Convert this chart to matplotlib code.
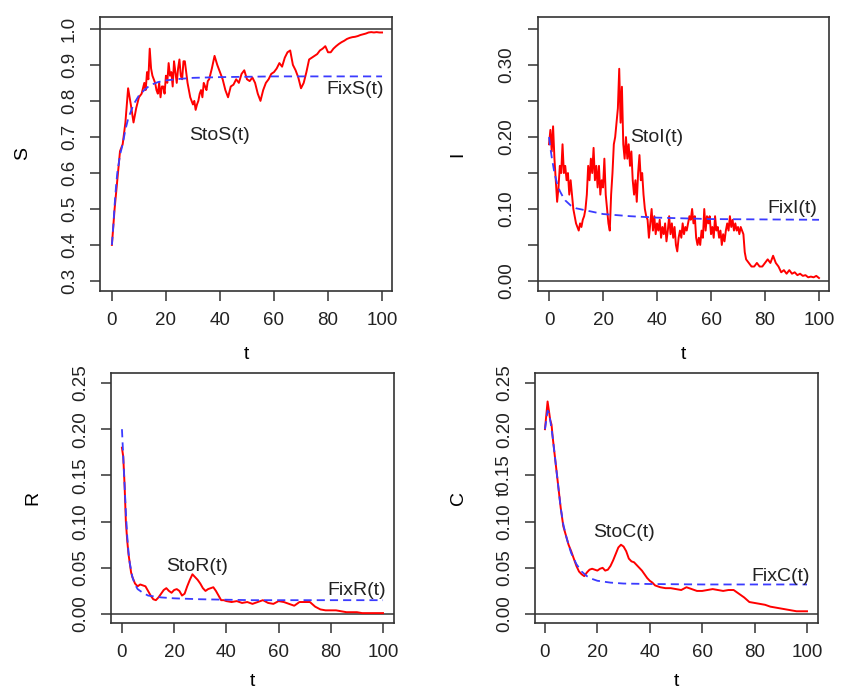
#Stochastic vs fixed solution of the S, I, R, C model (4 panels, R-like style)
import numpy as np
import matplotlib.pyplot as plt

plt.rcParams['font.family'] = ['Liberation Sans', 'DejaVu Sans']

#Data
#S(t)
t_S = np.concatenate([np.arange(0, 12, 1), np.arange(12, 36.5, 0.5), np.arange(37, 101, 1)])
sto_S = [0.40, 0.50, 0.58, 0.66, 0.68, 0.74, 0.835, 0.79, 0.74, 0.78, 0.81, 0.82,
         0.85, 0.83, 0.88, 0.86, 0.945, 0.89, 0.87, 0.86, 0.85, 0.83,
         0.82, 0.85, 0.81, 0.84, 0.84, 0.82, 0.87, 0.85, 0.905, 0.87,
         0.88, 0.84, 0.91, 0.88, 0.85, 0.89, 0.915, 0.87, 0.86, 0.91,
         0.91, 0.88, 0.85, 0.83, 0.81, 0.80, 0.79, 0.80, 0.775, 0.79,
         0.80, 0.82, 0.83, 0.81, 0.85, 0.84, 0.83, 0.855, 0.86,
         0.89, 0.925, 0.90, 0.88, 0.86, 0.83, 0.81, 0.84, 0.845, 0.86,
         0.85, 0.875, 0.885, 0.86, 0.855, 0.865, 0.85, 0.82, 0.80, 0.83,
         0.85, 0.86, 0.875, 0.88, 0.89, 0.905, 0.895, 0.92, 0.935, 0.94,
         0.90, 0.885, 0.865, 0.835, 0.85, 0.88, 0.915, 0.92, 0.925, 0.93,
         0.94, 0.945, 0.952, 0.935, 0.935, 0.945, 0.952, 0.958, 0.963, 0.967,
         0.972, 0.975, 0.977, 0.978, 0.98, 0.983, 0.985, 0.987, 0.99, 0.991,
         0.99, 0.991, 0.99, 0.99]
t_fixS = [0, 0.5, 1, 1.5, 2, 3, 4, 5, 6, 7, 8, 10, 12, 14, 17, 20, 25, 30, 40, 50, 60, 80, 100]
fix_S = [0.40, 0.45, 0.51, 0.56, 0.60, 0.65, 0.68, 0.72, 0.75, 0.77, 0.79, 0.815,
         0.83, 0.843, 0.852, 0.857, 0.861, 0.864, 0.866, 0.867, 0.868, 0.868, 0.868]

#I(t)
t_I = np.concatenate([np.arange(0, 73.5, 0.5), np.arange(74, 101, 1)])
sto_I = [0.19, 0.21, 0.18, 0.215, 0.17, 0.14, 0.11, 0.13, 0.16, 0.15,
         0.19, 0.15, 0.16, 0.14, 0.15, 0.12, 0.14, 0.12, 0.10, 0.09,
         0.08, 0.075, 0.07, 0.08, 0.075, 0.085, 0.09, 0.10, 0.12, 0.16,
         0.14, 0.17, 0.15, 0.185, 0.14, 0.16, 0.13, 0.16, 0.12, 0.14,
         0.13, 0.17, 0.12, 0.10, 0.08, 0.07, 0.12, 0.15, 0.19, 0.20,
         0.22, 0.24, 0.295, 0.22, 0.27, 0.19, 0.17, 0.20, 0.17, 0.19,
         0.16, 0.18, 0.14, 0.12, 0.14, 0.11, 0.15, 0.175, 0.14, 0.15,
         0.12, 0.10, 0.09, 0.085, 0.06, 0.08, 0.10, 0.07, 0.09, 0.065,
         0.08, 0.07, 0.085, 0.06, 0.075, 0.065, 0.08, 0.055, 0.07, 0.09,
         0.065, 0.08, 0.06, 0.075, 0.05, 0.041, 0.06, 0.07, 0.06, 0.08,
         0.065, 0.075, 0.07, 0.08, 0.09, 0.085, 0.10, 0.08, 0.09, 0.06,
         0.05, 0.06, 0.05, 0.07, 0.06, 0.10, 0.07, 0.09, 0.08, 0.09,
         0.065, 0.075, 0.06, 0.09, 0.07, 0.075, 0.06, 0.07, 0.05, 0.065,
         0.055, 0.07, 0.08, 0.07, 0.09, 0.075, 0.085, 0.07, 0.08, 0.07,
         0.075, 0.065, 0.075, 0.07, 0.065, 0.04, 0.03,
         0.025, 0.02, 0.02, 0.025, 0.02, 0.02, 0.025, 0.03, 0.025, 0.035,
         0.025, 0.02, 0.012, 0.015, 0.01, 0.015, 0.01, 0.012, 0.008, 0.01,
         0.007, 0.008, 0.005, 0.006, 0.005, 0.007, 0.004]
t_fixI = [0, 0.5, 1, 2, 3, 4, 5, 6, 8, 10, 15, 20, 30, 40, 50, 60, 80, 100]
fix_I = [0.20, 0.185, 0.172, 0.15, 0.135, 0.125, 0.118, 0.112, 0.105, 0.101,
         0.097, 0.093, 0.09, 0.088, 0.087, 0.086, 0.0855, 0.085]

#R(t)
t_R = [0, 0.5, 1, 1.5, 2, 2.5, 3, 3.5, 4, 5, 6, 7, 8, 9, 10, 11, 12, 13, 14, 15,
       16, 17, 18, 19, 20, 21, 22, 23, 24, 25, 26, 27, 28, 29, 30, 31, 32, 33, 34, 35,
       36, 37, 38, 39, 40, 42, 44, 46, 48, 50, 52, 54, 56, 58, 60, 62, 64, 66, 68, 70,
       72, 74, 76, 78, 80, 82, 84, 86, 88, 90, 92, 95, 100]
sto_R = [0.18, 0.17, 0.14, 0.10, 0.08, 0.065, 0.055, 0.045, 0.04, 0.033, 0.03, 0.032,
         0.031, 0.03, 0.025, 0.02, 0.016, 0.015, 0.018, 0.022, 0.026, 0.028, 0.025, 0.023,
         0.026, 0.027, 0.025, 0.02, 0.022, 0.03, 0.037, 0.043, 0.04, 0.037, 0.033, 0.028,
         0.025, 0.027, 0.028, 0.029, 0.025, 0.02, 0.015, 0.015, 0.014, 0.013, 0.014, 0.012,
         0.013, 0.011, 0.013, 0.015, 0.012, 0.011, 0.014, 0.013, 0.011, 0.009, 0.013, 0.013,
         0.013, 0.008, 0.005, 0.004, 0.004, 0.004, 0.003, 0.002, 0.002, 0.002, 0.001, 0.001,
         0.001]
t_fixR = [0, 0.5, 1, 1.5, 2, 2.5, 3, 4, 5, 6, 8, 10, 15, 20, 30, 50, 100]
fix_R = [0.20, 0.17, 0.14, 0.11, 0.085, 0.067, 0.055, 0.04, 0.032, 0.027, 0.023,
         0.02, 0.018, 0.017, 0.016, 0.015, 0.015]

#C(t)
t_C = [0, 0.5, 1, 1.5, 2, 2.5, 3, 4, 5, 6, 7, 8, 9, 10, 11, 12, 13, 14, 15, 16,
       17, 18, 19, 20, 21, 22, 23, 24, 25, 26, 27, 28, 29, 30, 31, 32, 33, 34, 35, 36,
       37, 38, 39, 40, 41, 42, 44, 46, 48, 50, 52, 54, 56, 58, 60, 62, 64, 66, 68, 70,
       72, 74, 76, 78, 80, 82, 84, 86, 88, 90, 92, 94, 96, 98, 100]
sto_C = [0.20, 0.215, 0.23, 0.22, 0.21, 0.205, 0.19, 0.165, 0.14, 0.115, 0.095, 0.085,
         0.075, 0.068, 0.06, 0.052, 0.046, 0.043, 0.041, 0.045, 0.048, 0.049, 0.048, 0.047,
         0.049, 0.05, 0.047, 0.048, 0.052, 0.058, 0.065, 0.072, 0.075, 0.073, 0.068, 0.06,
         0.057, 0.056, 0.053, 0.05, 0.047, 0.043, 0.039, 0.036, 0.034, 0.031, 0.029, 0.028,
         0.028, 0.027, 0.026, 0.029, 0.027, 0.025, 0.025, 0.026, 0.027, 0.026, 0.025, 0.026,
         0.026, 0.022, 0.018, 0.013, 0.012, 0.011, 0.010, 0.008, 0.007, 0.006, 0.005, 0.004,
         0.003, 0.003, 0.003]
t_fixC = [0, 0.5, 1, 1.5, 2, 3, 4, 5, 6, 7, 8, 9, 10, 12, 14, 16, 18, 20, 25, 30, 40, 60, 100]
fix_C = [0.20, 0.21, 0.22, 0.218, 0.21, 0.19, 0.165, 0.14, 0.115, 0.097, 0.085, 0.075,
         0.066, 0.054, 0.046, 0.041, 0.038, 0.036, 0.034, 0.033, 0.0325, 0.032, 0.032]

#tick labels
ticks_S = [0.3, 0.4, 0.5, 0.6, 0.7, 0.8, 0.9, 1.0]
labels_S = ['0.3', '0.4', '0.5', '0.6', '0.7', '0.8', '0.9', '1.0']
ticks_I = [0.0, 0.05, 0.10, 0.15, 0.20, 0.25, 0.30, 0.35]
labels_I = ['0.00', '', '0.10', '', '0.20', '', '0.30', '']
ticks_RC = [0.0, 0.05, 0.10, 0.15, 0.20, 0.25]
labels_R = ['0.00', '0.05', '0.10', '0.15', '0.20', '0.25']
labels_C = ['0.00', '0.05', '0.10', 't0.15', '0.20', '0.25']
ticks_t = [0, 20, 40, 60, 80, 100]

frame = '#333333'
red = '#ff0000'
blue = '#3b3bff'


#R style axes
def setup(ax, xlim, ylim, yticks, ylabels, ylab, hline, ylab_x, xlab_y):
    ax.set_xlim(xlim)
    ax.set_ylim(ylim)
    ax.axhline(hline, color=frame, lw=1.1, zorder=1)
    ax.set_xticks(ticks_t)
    ax.set_xticklabels([str(v) for v in ticks_t])
    ax.set_yticks(yticks)
    ax.set_yticklabels(ylabels, rotation=90, va='center')
    ax.tick_params(axis='both', direction='out', length=7, width=1.1,
                   color=frame, labelsize=13.5, labelcolor='#222222')
    ax.tick_params(axis='x', pad=8)
    ax.tick_params(axis='y', pad=9)
    for s in ax.spines.values():
        s.set_color(frame)
        s.set_linewidth(1.2)
    ax.set_xlabel('t', fontsize=14)
    ax.xaxis.set_label_coords(0.5, xlab_y)
    ax.set_ylabel(ylab, fontsize=14)
    ax.yaxis.set_label_coords(ylab_x, 0.5)


fig = plt.figure(figsize=(8.44, 6.91), dpi=100)

#S panel
ax1 = fig.add_axes([0.1185, 0.5789, 0.346, 0.3965])
ax1.plot(t_S, sto_S, color=red, lw=1.4, zorder=2)
ax1.plot(t_fixS, fix_S, color=blue, lw=1.3, ls=(0, (4.5, 2.8)), zorder=3)
ax1.text(40, 0.703, 'StoS(t)', fontsize=14, ha='center', va='center', color='#222222')
ax1.text(90, 0.833, 'FixS(t)', fontsize=14, ha='center', va='center', color='#222222')
setup(ax1, (-4.4, 103.7), (0.272, 1.033), ticks_S, labels_S, 'S', 1.0, -0.235, -0.2)

#I panel
ax2 = fig.add_axes([0.6374, 0.5789, 0.3448, 0.3965])
ax2.plot(t_I, sto_I, color=red, lw=1.4, zorder=2)
ax2.plot(t_fixI, fix_I, color=blue, lw=1.3, ls=(0, (4.5, 2.8)), zorder=3)
ax2.text(40, 0.199, 'StoI(t)', fontsize=14, ha='center', va='center', color='#222222')
ax2.text(90.3, 0.101, 'FixI(t)', fontsize=14, ha='center', va='center', color='#222222')
setup(ax2, (-4.1, 103.7), (-0.014, 0.367), ticks_I, labels_I, 'I', 0.0, -0.245, -0.2)

#R panel
ax3 = fig.add_axes([0.1315, 0.0984, 0.3353, 0.3618])
ax3.plot(t_R, sto_R, color=red, lw=1.4, zorder=2)
ax3.plot(t_fixR, fix_R, color=blue, lw=1.3, ls=(0, (4.5, 2.8)), zorder=3)
ax3.text(28.7, 0.051, 'StoR(t)', fontsize=14, ha='center', va='center', color='#222222')
ax3.text(90, 0.026, 'FixR(t)', fontsize=14, ha='center', va='center', color='#222222')
setup(ax3, (-4.2, 104.2), (-0.0097, 0.2608), ticks_RC, labels_R, 'R', 0.0, -0.245, -0.2)

#C panel
ax4 = fig.add_axes([0.6339, 0.0984, 0.3353, 0.3618])
ax4.plot(t_C, sto_C, color=red, lw=1.4, zorder=2)
ax4.plot(t_fixC, fix_C, color=blue, lw=1.3, ls=(0, (4.5, 2.8)), zorder=3)
ax4.text(30, 0.0887, 'StoC(t)', fontsize=14, ha='center', va='center', color='#222222')
ax4.text(90, 0.041, 'FixC(t)', fontsize=14, ha='center', va='center', color='#222222')
setup(ax4, (-3.8, 104.2), (-0.0097, 0.2608), ticks_RC, labels_C, 'C', 0.0, -0.242, -0.2)

plt.savefig('out.png', dpi=100)
